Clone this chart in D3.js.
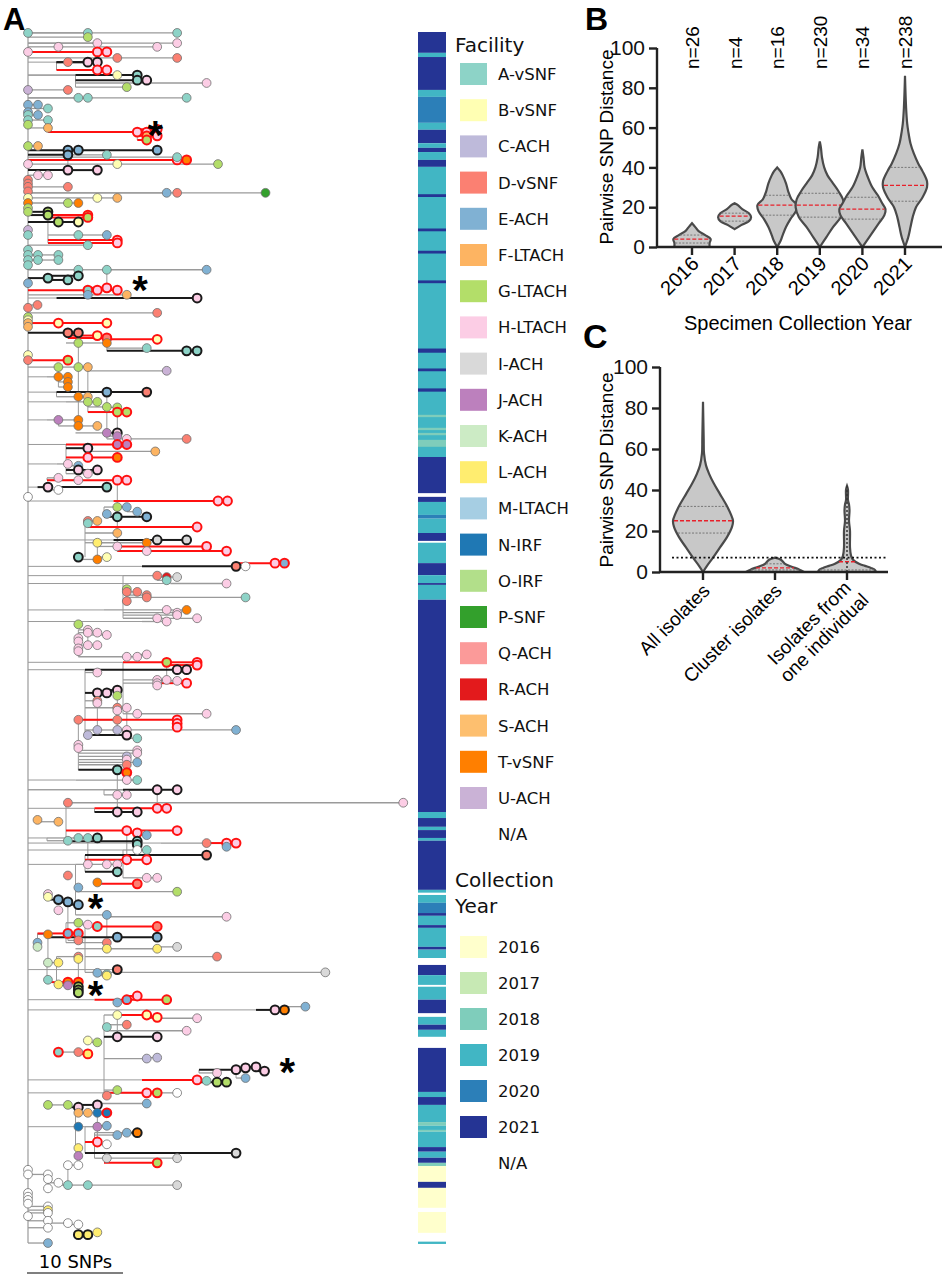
<!DOCTYPE html>
<html><head><meta charset="utf-8">
<script src="https://cdn.jsdelivr.net/npm/d3@7"></script>
<style>body{margin:0;background:#fff}svg{display:block}</style>
</head><body>
<script>
// ---------------- DATA ----------------
const facilityCodes = ["A","B","C","D","E","F","G","H","I","J","K","L","M","N","O","P","Q","R","S","T","U","W"];
const facilityLabels = ["A-vSNF","B-vSNF","C-ACH","D-vSNF","E-ACH","F-LTACH","G-LTACH","H-LTACH","I-ACH","J-ACH","K-ACH","L-ACH","M-LTACH","N-IRF","O-IRF","P-SNF","Q-ACH","R-ACH","S-ACH","T-vSNF","U-ACH","N/A"];
const facilityColors = ["#8dd3c7","#ffffb3","#bebada","#fb8072","#80b1d3","#fdb462","#b3de69","#fccde5","#d9d9d9","#bc80bd","#ccebc5","#ffed6f","#a6cee3","#1f78b4","#b2df8a","#33a02c","#fb9a99","#e31a1c","#fdbf6f","#ff7f00","#cab2d6","#ffffff"];
const yearLabels = ["2016","2017","2018","2019","2020","2021","N/A"];
const yearColors = ["#ffffcc","#c7e9b4","#7fcdbb","#41b6c4","#2c7fb8","#253494","#ffffff"];

// tree tips: [tip order, branch start (SNPs), node position (SNPs), facility, ring]
const tips = [
[0.2,0,0,'A',''],[0.2,0,6.3,'A',''],[0.2,0,15.7,'A',''],[1.1,0,6.3,'G',''],
[2.4,0,7.3,'H',''],[2.4,0,15.7,'H',''],[3.2,0,3.2,'H',''],[3.2,3.2,13.6,'H',''],
[4.3,0,0,'H',''],[4.3,0,7.3,'H','r'],[4.3,7.3,8.3,'H','r'],[5.6,0,9.4,'D',''],[5.6,9.4,15.7,'D',''],
[6.5,3,4.2,'D',''],[6.5,3,6.3,'H','k'],[6.5,3,7.3,'H','k'],[8.2,3,7.3,'H','r'],[8.2,7.3,8.3,'H','r'],
[9.3,0,9.4,'B',''],[9.3,5,11.5,'A','k'],[10.4,5,11.5,'A','k'],[10.4,11.5,12.5,'H','k'],[11,5,18.8,'H',''],
[11.9,5,10.4,'G',''],[12.5,0,0,'U',''],[12.5,0,4.2,'D',''],
[14.2,0,5.3,'A',''],[14.2,0,6.3,'A',''],[14.2,6.3,16.7,'A',''],
[15.7,0,0,'E',''],[15.7,0,1.05,'E',''],[16.5,0,2.1,'A',''],[17.3,0,0,'E',''],[17.9,0,0,'A',''],[17.9,0,1.05,'E',''],
[19,0,0,'A',''],[19,0,2.1,'A',''],[20,0,0,'G',''],
[20.7,0,2.1,'F',''],[21.6,2.1,11.5,'H','r'],[21.6,11.5,12.5,'H','r'],[21,11.5,13.6,'H','r'],[22.4,11.5,12.5,'F','r'],[22.4,12.5,13.6,'H','r'],[23.3,11.5,12.5,'G','r'],
[24.6,0,0,'G',''],[24.6,0,1.05,'F',''],
[25.5,0,4.2,'E','k'],[25.5,4.2,5.3,'E','k'],[25.5,5.3,13.6,'E','k'],[26.5,0,4.2,'E','k'],[26.5,4.2,8.3,'A',''],
[27.6,0,15.7,'H','r'],[27.6,15.7,16.7,'T','r'],[27,0,15.7,'A',''],
[28.5,0,0,'H',''],[28.5,0,9.4,'B',''],[28.5,9.4,20,'G',''],[29.8,0,4.2,'H','k'],[29.8,4.2,7.3,'H','k'],
[30.9,0,1.05,'H',''],[30.9,1,2.1,'H',''],
[31.9,0,0,'D',''],[32.7,0,0,'D',''],[33.4,0,0,'D',''],[33.4,0,4.2,'D',''],
[34.4,0,0,'D',''],[34.7,0,14.6,'E',''],[34.7,0,15.7,'D',''],[34.7,15.7,25,'P',''],
[35.8,0,0,'B',''],[35.8,0,7.3,'B',''],[35.8,7.3,9.4,'F',''],[36.9,0,0,'T',''],[36.9,0,4.2,'G',''],[36.9,4.2,5.3,'T',''],
[38,0,0,'G',''],[38.8,0,0,'G',''],[38.8,0,2.1,'G','k'],[39.5,0,2.1,'G','k'],[39.5,2.1,6.3,'G','r'],[40,2.1,6.3,'G','r'],
[41,0,3.2,'G','k'],[41,3.2,5.3,'B','k'],
[42.7,0,0,'U',''],[43.8,0,0,'A',''],[43.8,2.1,5.3,'A',''],[43.8,5.3,8.3,'E',''],[44.9,2.1,9.4,'H','r'],[45.5,2.1,9.4,'H','r'],
[46,0,6.3,'A',''],[47,0,0,'A',''],[48.1,0,0,'A',''],[48.1,0,1.05,'A',''],[48.1,1,3.2,'A',''],[49.2,0,0,'A',''],[49.2,0,1.05,'A',''],[49.2,1,3.2,'A',''],
[50.3,0,0,'A',''],[51.3,0,5.3,'A',''],[51.3,5.3,8.3,'A',''],[51.3,8.3,18.8,'E',''],
[53.1,0,2.1,'A','k'],[52.6,2.1,5.3,'A','k'],[53.5,2.1,4.2,'A','k'],[54.2,0,0,'E',''],
[55.7,0,6.3,'A','r'],[55.7,6.3,7.3,'H','r'],[55.2,6.3,8.3,'H','r'],[55.7,8.3,9.4,'H','r'],
[56.7,0,6.3,'E',''],[56.7,6.3,10.4,'F',''],[57.4,3,17.8,'H','k'],
[58.9,0,1,'D',''],[59.5,0,0,'D',''],[60.6,0,13.6,'D',''],
[61.5,0,0,'G',''],[62.2,0,0,'B',''],[62.8,0,0,'F',''],[62.8,0,3.2,'B','r'],[62.8,3.2,8.3,'B','r'],[63.6,0,0,'F',''],
[64.9,0,4.2,'D','k'],[64.9,4.2,5.3,'D','k'],[65.5,4.2,7.3,'B','r'],[66,4.2,8.3,'D','r'],[66.3,8.3,13.6,'B','r'],
[67.1,4,5.3,'G',''],[67.1,5.3,8.3,'T',''],[68.2,8.3,12.5,'A',''],[68.8,8.3,16.7,'A','k'],[68.8,16.7,17.8,'A','k'],
[69.7,0,0,'B',''],[70.8,0,0,'D',''],[70.8,0,4.2,'G','r'],
[72.3,0,3.2,'G',''],[72.3,3.2,5.3,'G',''],[72.3,5.3,6.3,'F',''],[73.1,6.3,14.6,'U',''],
[74.4,2,3.2,'T',''],[74.4,3.2,4.2,'T',''],[75.5,3.2,4.2,'T',''],[76.6,3.2,4.2,'T',''],
[77.7,3,8.3,'E','k'],[77.7,8.3,12.5,'D','k'],
[78.7,3,5.3,'T',''],[78.7,5.3,6.3,'F',''],[79.8,4,6.3,'G',''],[79.8,6.3,7.3,'G',''],[80.9,6.3,8.3,'G',''],[81,8.3,9.4,'G',''],[82,6.3,9.4,'G','r'],[82,9.4,10.4,'G','r'],
[83.7,2,3.2,'J',''],[83.7,3.2,5.3,'T',''],[85,3.2,5.3,'T',''],[85,5.3,7.3,'F',''],
[86.5,5,8.3,'J',''],[86.5,8.3,9.4,'H','k'],[87.2,8.3,9.4,'J',''],[87.8,8.3,10.4,'H',''],[87.8,10.4,16.7,'D',''],
[89,4,9.4,'J','r'],[89,9.4,10.4,'J','r'],[89.8,4,6.3,'H','k'],[90.5,6.3,13.4,'F',''],
[91.8,4,6.3,'H','r'],[91.8,6.3,9.4,'T','r'],
[93.2,3,4.2,'H',''],[93.6,4,5.3,'E',''],[94.5,4,5.3,'H','k'],[94.5,5.3,7.3,'H','k'],[95.3,4,6.3,'H',''],
[96.2,2,3.2,'H',''],[96.7,2,5.3,'H',''],[96.7,2,9.4,'H','r'],[96.7,9.4,10.4,'H','r'],
[98.2,1,2.1,'H','k'],[98.8,2.1,3.2,'W',''],[98.2,3.2,8.3,'A','k'],[100.3,0,0,'W',''],
[101.2,9,20,'H','r'],[101.2,20,21,'H','r'],
[102.5,8,9.4,'G',''],[102.5,9.4,10.4,'E',''],[103.5,10.4,11.5,'E',''],[104,8,8.3,'E',''],[104.6,8,9.4,'A','k'],[104.6,9.4,12.5,'E','k'],
[105.5,6,6.3,'D',''],[105.5,6.3,7.3,'F',''],[106,6,6.3,'A',''],[106.8,6.3,17.8,'H','r'],
[108.1,6,9.4,'F',''],[109.6,9,13.6,'I','k'],[109.6,13.6,16.7,'I','k'],[110.2,6,7.3,'L',''],[110.2,7.3,12.5,'T',''],
[111,7.3,9.4,'H',''],[111,9.4,18.8,'H','r'],[112,9.4,20.9,'H','r'],[112,9.4,12.5,'H',''],
[113.3,6,5.3,'A','k'],[113.8,5.3,7.3,'T',''],[113.3,7.3,8.3,'B',''],
[114.6,22,26,'H','r'],[114.6,26,27,'E','r'],[115.3,12,21.9,'D','k'],[115.3,21.9,22.9,'W',''],
[117.3,10,13.6,'D',''],[117.6,13.6,14.6,'R',''],[118.3,13.6,14.6,'A',''],[117.6,14.6,15.7,'I',''],[119,15,20.9,'H',''],
[120.2,10,10.4,'G',''],[120.8,10,10.4,'D',''],[120.8,10.4,11.5,'D',''],[121.5,10.4,12.5,'D',''],[122,10.4,12.5,'D',''],[122,12.5,22.9,'A',''],[122.8,10,10.4,'D',''],
[124.7,8,14.6,'H',''],[124.7,14.6,16.7,'T',''],[125.3,10,15.7,'H',''],[125.8,10,15.7,'H',''],[126.5,10,17.8,'H',''],[126.5,10,13.6,'H',''],[127.2,12,14.6,'H',''],
[127.8,6,5.3,'G',''],
[129,5.3,6.3,'H',''],[129.6,5.3,6.3,'H',''],[129.6,6.3,7.3,'H',''],[130.1,6.3,8.3,'H',''],[130.8,5.3,5.3,'H',''],
[131.5,5.3,5.3,'H',''],[132.3,5.3,6.3,'H',''],[132.3,6.3,7.3,'H',''],[133,5.3,5.3,'H',''],[133.6,5.3,5.3,'H',''],
[134.8,5.3,10.4,'H',''],[134.8,10.4,11.5,'H',''],[134.3,11.5,12.5,'H',''],
[136,10,14.6,'G','r'],[136,14.6,17.8,'H','r'],[136.6,14.6,17.8,'H','r'],
[137.6,6,15.7,'H','k'],[137.6,15.7,16.7,'H','k'],[138.2,6,7.3,'H',''],
[139.8,10,13.6,'H',''],[139.8,13.6,14.6,'H',''],[140,14.6,15.7,'H',''],
[140.5,10,13.6,'H',''],[140.5,13.6,16.7,'H','r'],[141,13.6,13.6,'H',''],
[142.6,6,7.3,'H','k'],[142.6,7.3,8.3,'H','k'],[142,8.3,9.4,'H','k'],[143.2,9.4,9.4,'G',''],
[144.3,6,7.3,'D',''],[144.8,7.3,7.3,'H',''],[145.8,6,10.4,'H',''],[145.8,10.4,9.4,'D',''],[146.4,9.4,9.4,'H',''],[147.1,10,11.5,'H',''],[147.1,11.5,18.8,'H',''],
[148.4,5.3,5.3,'D',''],[148.4,6,9.4,'D',''],[148.4,5.3,15.7,'H','r'],[149.2,15.7,15.7,'H','r'],[150,15.7,15.7,'H','r'],
[150.6,6,7.3,'C',''],[150.6,7.3,9.4,'C',''],[150.6,9.4,10.4,'H',''],[150.6,10.4,21.9,'E',''],
[151.7,6,6.3,'C',''],[151.7,6.3,10.4,'H','k'],[152.4,10.4,11.5,'A',''],
[153.8,5.3,5.3,'H',''],[154.5,5.3,5.3,'H',''],[155,5.3,11.5,'H',''],[155.6,5.3,11.5,'H',''],[156.3,5.3,10.4,'C',''],[157,5.3,10.4,'H',''],[157.6,5.3,11.5,'E',''],[158.1,5.3,10.4,'D',''],
[159.2,5.3,9.4,'A','k'],[159.8,9.4,10.4,'T','r'],
[161.4,5,10.4,'H',''],[161.4,10.4,11.5,'A',''],
[163.5,8,13.6,'W',''],[163.5,10,13.6,'H','k'],[163.5,13.6,15.7,'H','k'],[164.6,8,9.4,'H',''],[164.6,9.4,10.4,'H',''],
[166.3,4,39.5,'H',''],[166.3,4,4.2,'D',''],
[167.5,7,13.6,'H','r'],[167.5,13.6,14.6,'H','r'],[168.3,7,9.4,'H','k'],[168.3,9.4,11.5,'H','k'],
[170,1,1,'F',''],[170.4,1,3.2,'F',''],
[172.3,4,10.4,'H','r'],[172.8,10.4,11.5,'H','r'],[172.3,11.5,15.7,'H','r'],[173.3,11.5,12.5,'E',''],
[174.6,4,11.5,'A','k'],[175.3,11.5,11.5,'A','k'],[173.9,2,5.3,'A',''],[173.9,5.3,6.3,'A',''],[173.9,6.3,7.3,'A','k'],[174.5,2,4.2,'A',''],
[175,14,18.8,'D',''],[175,18.8,20.9,'H','r'],[175,20.9,21.9,'H','r'],[175.8,20.9,20.9,'E',''],
[176.5,10,11.5,'W',''],[176.5,11.5,12.5,'A',''],[177.6,6,18.8,'D','k'],
[178.6,6,10.4,'H','r'],[178.6,10.4,12.5,'H','r'],[179.6,5,6.3,'H',''],[179.6,6.3,8.3,'H',''],[179.6,8.3,9.4,'H',''],
[181.2,6,9.4,'A','k'],[182,4,4.2,'D',''],
[182.5,10,12.5,'H',''],[182.5,12.5,13.6,'H',''],[183.5,7,7.3,'T',''],[183.8,7.3,11.5,'D','r'],
[185.5,5,15.7,'G',''],[184.6,5,5.3,'E',''],
[186,2,2.1,'H',''],[186.6,2,2.1,'B',''],[187.2,2,3.2,'E','k'],[187.7,3.2,4.2,'E','k'],[188.3,4.2,5.3,'E','k'],
[189.5,3,3.2,'H',''],[190.5,5,8.3,'E',''],[190.9,8.3,20.9,'H',''],
[192.2,4,5.3,'G',''],[192.6,5.3,6.3,'H',''],[193,6,7.3,'A','r'],[193,7.3,13.6,'D','r'],
[194.7,1,2.1,'T',''],[195.3,2.1,9.4,'E','k'],[195.3,9.4,13.6,'E','k'],[194.5,1,4.2,'E','r'],[194.5,4.2,5.3,'E','r'],[196,4.2,5.3,'D',''],
[196.5,1,1,'E',''],[197.4,1,1,'K',''],[196.5,4,8.3,'D',''],
[197.8,5,8.3,'L',''],[197.8,8.3,13.6,'L',''],[197.4,13.6,15.7,'I',''],
[199.5,3,5.3,'D',''],[199.5,6,19.9,'D',''],[200,5.3,5.3,'L',''],
[200.8,2,2.1,'K',''],[200.8,2.1,3.2,'L',''],
[202.3,9,9.4,'D','k'],[202.9,6,31.3,'I',''],[203,7.3,7.3,'E',''],[203.3,7.3,8.3,'A',''],[203.6,7.3,8.3,'L',''],
[204.5,2,2.1,'A',''],[205,2,4.2,'T','r'],[205,4.2,5.3,'T','r'],[205.5,3,3.2,'L',''],[205.7,3.2,4.2,'J',''],
[206,5.3,5.3,'G','k'],[206.7,5.3,5.3,'G','k'],[207.3,5.3,5.3,'G','k'],
[208.8,7,10.4,'E','r'],[209.4,10.4,9.4,'E',''],[208.8,10.4,14.6,'G','r'],[208,10.4,11.5,'H','r'],
[211,24,26,'H','k'],[211,26,27,'T','k'],[210.3,27,29.2,'E',''],
[212.1,8,9.4,'B',''],[212.1,9.4,12.5,'B','r'],[212.6,12.5,13.6,'B','r'],[212.8,12.5,17.8,'H',''],
[214.7,8,8.3,'A',''],[215.5,8.3,16.7,'H',''],[214.2,8.3,10.4,'D',''],
[216.8,8,9.4,'H','k'],[216.8,9.4,13.6,'H','k'],[217.6,6,6.3,'B',''],[218,6.3,7.3,'G',''],
[220.1,3,3.2,'A','r'],[220.1,3.2,5.3,'D',''],[220.5,5.3,6.3,'L','r'],[221.5,8,12.5,'C',''],[221.3,12.5,13.6,'C',''],
[223.9,18,21.9,'H','k'],[223.5,21.9,22.9,'H','k'],[223.3,22.9,24,'H','k'],[224.2,24,24.9,'H','k'],[225.7,21.9,22.9,'E',''],[224.6,18,19.9,'H',''],
[226.1,12,17.8,'H','r'],[226.3,17.8,18.8,'A',''],[226.6,17.8,19.9,'G','k'],[226.6,19.9,20.9,'G','k'],
[228.9,14,15.7,'W',''],[228.3,8,9.4,'G',''],[229.5,8,8.3,'D',''],[228.9,8,12.5,'H','r'],[228.9,12.5,13.6,'G','r'],
[231.5,2,2.1,'G',''],[231.5,2.1,4.2,'G',''],[232,4.2,5.3,'H','k'],[231.5,5.3,7.3,'H','k'],[231.2,7.3,12.5,'E',''],
[233.2,5,5.3,'F',''],[233.2,5.3,6.3,'F',''],[233.2,6.3,7.3,'N',''],[233.2,7.3,8.3,'N','r'],
[236.2,5,5.3,'N',''],[236.2,6,7.3,'J',''],[236,7.3,8.3,'E',''],
[237.5,7,10.4,'E',''],[237.5,10.4,11.5,'T','k'],[238,7,9.4,'E',''],
[239.5,6,7.3,'H','r'],[240,7.3,8.3,'W',''],
[241.9,6,21.9,'I','k'],[240.8,5,5.3,'L',''],[242.5,5.3,5.3,'J',''],[243,7,8.3,'I',''],[243,8.3,15.7,'I',''],
[244,8,13.6,'G','r'],[244.5,4,4.2,'W',''],[244.5,4.2,5.3,'W',''],
[245.5,0,0,'W',''],[246.5,0,0,'W',''],[246.5,0,2.1,'W',''],[247.5,2.1,2.1,'W',''],[248.3,2.1,3.2,'W',''],
[248.8,3,4.2,'A',''],[248.8,4.2,6.3,'A',''],[248.8,6.3,15.7,'I',''],[249.5,2.1,2.1,'W',''],
[250.5,0,0,'W',''],[251.3,0,0,'W',''],[252,0,0,'W',''],[252.8,0,0,'W',''],[253.4,0,2.1,'W',''],[254.2,0,2.1,'L',''],[254.8,0,2.1,'W',''],[255.5,0,0,'W',''],
[256.5,0,2.1,'W',''],[257,2.1,4.2,'W',''],[257.3,4.2,5.3,'W',''],[258,0,2.1,'W',''],
[259.5,5,5.3,'L','k'],[259.5,5.3,6.3,'L','k'],[259,6.3,7.3,'L',''],[261.3,0,2.1,'E','']
];
const asterisks = [[22.2,13.4],[55.7,11.8],[189,7.1],[207.8,7.1],[224.4,27.3]];

// collection-year strip: [year, first tip order, last tip order]
const yearBands = [
["2021",0,4.5],["2019",4.5,5.4],["2021",5.4,12.5],["2019",12.5,14],["2020",14,19.6],["2019",19.6,21.1],["2021",21.1,24],["2019",24,25],["2021",25,25.9],["2019",25.9,27.6],["2021",27.6,29.1],
["2019",29.1,91.7],["2021",35,35.6],["2021",42.4,43],["2021",47.2,47.8],["2021",53.6,54.2],["2021",68.3,69.2],["2021",72.6,73.2],["2021",76.9,77.6],
["2018",82.6,83.1],["2018",85.4,85.9],["2018",86.5,87],["2018",88,89.5],
["2021",91.7,99.5],["2021",100.3,101.4],["2019",101.4,104.2],["2020",104.2,105],["2019",105,108.1],["2021",108.1,109.8],["2019",110.2,114.6],["2021",114.6,117.2],["2019",117.2,118.9],["2021",118.9,119.3],["2019",119.3,122.5],
["2021",122.5,168.3],["2019",168.3,169.6],["2021",169.6,171.5],["2019",171.5,172.2],["2021",172.2,173.9],["2019",173.9,174.5],["2021",174.5,185.1],["2019",185.1,185.7],
["2019",186.2,187.9],["2020",187.9,190.1],["2021",190.1,190.7],["2019",190.7,192.7],["2021",192.7,193.3],["2019",193.3,197.4],["2021",197.4,198],["2019",198,199.8],
["2021",201.3,203.5],["2019",203.5,205.6],["2019",206,208.8],["2021",208.8,211.7],["2019",212.5,214.2],["2021",214.2,215.3],["2019",215.3,216.8],
["2021",219.2,228.7],["2019",228.7,229.8],["2021",229.8,231.5],["2019",231.5,235.2],["2018",235.2,236],["2019",236,236.9],["2018",236.9,237.3],["2019",237.3,240.6],["2021",240.6,241.6],["2019",241.6,242.9],["2021",242.9,244],["2018",244,244.7],
["2016",244.7,248.1],["2021",248.1,249.4],["2016",249.4,253.7],["2016",254.6,259.1],["2019",261,261.5]
];

// Panel B
const yearsB = ["2016","2017","2018","2019","2020","2021"];
const nB = ["n=26","n=4","n=16","n=230","n=34","n=238"];
const violinsB = [
 [[0,16],[2,16],[4,17],[6,12],[8,6],[10,3],[12,0]],
 [[9,0],[11,6],[13,13],[15,15],[17,13],[19,7],[21,3],[22,0]],
 [[0,0],[3,3],[6,5],[10,8],[14,12],[18,17],[21,18],[24,13],[28,10],[32,8],[36,5],[38,3],[40,0]],
 [[0,0],[5,6],[10,12],[15,19],[20,22],[24,21],[28,17],[32,12],[36,7],[40,4],[45,2],[50,1],[53,0]],
 [[0,0],[4,5],[8,10],[12,15],[16,20],[19,21],[22,18],[26,14],[30,9],[35,5],[40,2],[45,1],[49,0]],
 [[0,0],[5,3],[10,5],[15,7],[20,10],[25,16],[30,20],[33,20],[38,16],[42,12],[47,8],[52,5],[58,3],[62,2],[70,1],[86,0]]
];
const mediansB = [4,15.5,21,21,19,31];
const quartilesB = [[2,6],[13,17],[16,26],[15,27],[14,25],[23,40]];

// Panel C
const groupsC = [["All isolates"],["Cluster isolates"],["Isolates from","one individual"]];
const violinsC = [
 [[0,0],[3,4],[7,10],[12,17],[17,24],[22,29],[25,30],[28,28],[33,23],[38,17],[43,11],[48,6],[52,3],[58,1],[65,0.7],[83,0]],
 [[0,29],[1,25],[2,20],[3,14],[4,10],[5,8],[6,6],[7,0]],
 [[0,29],[1,28],[2,24],[3,18],[4,12],[6,6],[8,4],[12,3],[20,3],[25,2],[30,2.5],[33,2],[35,1],[40,1],[42,0]]
];
const mediansC = [25,2,5];
const quartilesC = [[19,32],[1,4],[1,18]];
const thresholdC = 7;
const yTicks = [0,20,40,60,80,100];

// ---------------- DRAW ----------------
const W = 946, H = 1280;
const svg = d3.select("body").append("svg").attr("width", W).attr("height", H);
const facColor = d3.scaleOrdinal(facilityCodes, facilityColors);
const yrColor = d3.scaleOrdinal(yearLabels, yearColors);

const xT = d3.scaleLinear().domain([0,10]).range([28,123]);
const yT = d3.scaleLinear().domain([0,260]).range([32,1237]);
const lineCol = r => r === 'k' ? '#1a1a1a' : r === 'r' ? '#ff1010' : '#9a9a9a';
const tree = svg.append("g");

tree.append("line").attr("x1", xT(0)).attr("x2", xT(0)).attr("y1", yT(0.2)).attr("y2", yT(261.3)).attr("stroke", "#9a9a9a").attr("stroke-width", 1.2);

const byFrom = d3.groups(tips.filter(t => t[1] > 0.5), t => t[1]);
byFrom.forEach(([v, arr]) => {
  const ranks = arr.map(t => t[0]).sort((a,b) => a-b);
  let groups = [[ranks[0]]];
  for (let i = 1; i < ranks.length; i++) {
    if (ranks[i] - ranks[i-1] > 7) groups.push([ranks[i]]); else groups[groups.length-1].push(ranks[i]);
  }
  groups.forEach(g => {
    const r0 = d3.min(g), r1 = d3.max(g);
    if (r1 > r0) tree.append("line").attr("x1", xT(v)).attr("x2", xT(v)).attr("y1", yT(r0)).attr("y2", yT(r1)).attr("stroke", "#9a9a9a").attr("stroke-width", 1);
    const hasParent = tips.some(t => Math.abs(t[2] - v) < 0.35 && Math.abs(t[0] - r0) < 3);
    if (!hasParent) tree.append("line").attr("x1", xT(0)).attr("x2", xT(v)).attr("y1", yT(r0)).attr("y2", yT(r0)).attr("stroke", "#9a9a9a").attr("stroke-width", 1);
  });
});

["", "k", "r"].forEach(ring => {
  tree.selectAll(null).data(tips.filter(t => t[4] === ring && t[2] > t[1])).join("line")
    .attr("x1", d => xT(d[1])).attr("x2", d => xT(d[2]))
    .attr("y1", d => yT(d[0])).attr("y2", d => yT(d[0]))
    .attr("stroke", lineCol(ring)).attr("stroke-width", ring ? 2 : 1.3);
});
tree.selectAll("circle").data(tips).join("circle")
  .attr("cx", d => xT(d[2])).attr("cy", d => yT(d[0])).attr("r", 4.4)
  .attr("fill", d => facColor(d[3]))
  .attr("stroke", d => d[4] === 'k' ? '#1a1a1a' : d[4] === 'r' ? '#ff1010' : '#707070')
  .attr("stroke-width", d => d[4] ? 2 : 0.8);

svg.selectAll(".ast").data(asterisks).join("text")
  .attr("x", d => xT(d[1])).attr("y", d => yT(d[0]) + 14)
  .attr("text-anchor", "middle").attr("font-family", "Liberation Sans, Arial")
  .attr("font-weight", "bold").attr("font-size", 40).text("*");

svg.append("line").attr("x1", xT(0) - 1).attr("x2", xT(10)).attr("y1", 1273).attr("y2", 1273).attr("stroke", "#000").attr("stroke-width", 1.2);
svg.append("text").attr("x", (xT(0) + xT(10)) / 2).attr("y", 1268).attr("text-anchor", "middle")
  .attr("font-family", "DejaVu Sans").attr("font-size", 18).text("10 SNPs");
svg.append("text").attr("x", 3).attr("y", 30).attr("font-family", "Liberation Sans, Arial").attr("font-weight", "bold").attr("font-size", 31).text("A");

svg.selectAll(".band").data(yearBands).join("rect")
  .attr("x", 418).attr("width", 28)
  .attr("y", d => yT(d[1])).attr("height", d => Math.max(1, yT(d[2]) - yT(d[1])))
  .attr("fill", d => yrColor(d[0]));

const leg = svg.append("g").attr("font-family", "DejaVu Sans").attr("fill", "#111");
leg.append("text").attr("x", 455).attr("y", 52).attr("font-size", 20).text("Facility");
facilityCodes.forEach((c, i) => {
  const y = 74 + i * 36.2;
  if (c !== "W") leg.append("rect").attr("x", 460).attr("y", y - 11).attr("width", 27).attr("height", 22).attr("fill", facColor(c));
  leg.append("text").attr("x", 498).attr("y", y + 6).attr("font-size", 16.5).text(facilityLabels[i]);
});
leg.append("text").attr("x", 455).attr("y", 887).attr("font-size", 20).text("Collection");
leg.append("text").attr("x", 455).attr("y", 913).attr("font-size", 20).text("Year");
yearLabels.forEach((yl, i) => {
  const y = 947 + i * 36;
  if (yl !== "N/A") leg.append("rect").attr("x", 460).attr("y", y - 11).attr("width", 27).attr("height", 22).attr("fill", yrColor(yl));
  leg.append("text").attr("x", 498).attr("y", y + 6).attr("font-size", 16.5).text(yl);
});

function widthAt(prof, v) {
  for (let i = 1; i < prof.length; i++) {
    if (v <= prof[i][0]) {
      const [a, wa] = prof[i-1], [b, wb] = prof[i];
      return wa + (wb - wa) * (v - a) / (b - a);
    }
  }
  return 0;
}
function violinPanel(g, cats, xs, ys, profiles, medians, quarts, wScale) {
  const area = d3.area().curve(d3.curveCatmullRom.alpha(0.5))
    .y(d => ys(d[0])).x0(d => -wScale(d[1])).x1(d => wScale(d[1]));
  cats.forEach((c, i) => {
    const cx = xs(i);
    const vg = g.append("g").attr("transform", `translate(${cx},0)`);
    vg.append("path").attr("d", area(profiles[i])).attr("fill", "#c8c8c8").attr("stroke", "#4a4a4a").attr("stroke-width", 2.2);
    quarts[i].forEach(q => {
      const w = wScale(widthAt(profiles[i], q));
      vg.append("line").attr("x1", -w + 1).attr("x2", w - 1).attr("y1", ys(q)).attr("y2", ys(q)).attr("stroke", "#777").attr("stroke-width", 1).attr("stroke-dasharray", "2,1.5");
    });
    const wm = wScale(widthAt(profiles[i], medians[i]));
    vg.append("line").attr("x1", -wm + 1).attr("x2", wm - 1).attr("y1", ys(medians[i])).attr("y2", ys(medians[i])).attr("stroke", "#e8202a").attr("stroke-width", 1.3).attr("stroke-dasharray", "4,2");
  });
}
function yAxis(g, ys, x) {
  const ax = g.append("g").attr("transform", `translate(${x},0)`)
    .call(d3.axisLeft(ys).tickValues(yTicks).tickSize(8).tickPadding(4));
  ax.selectAll("path,line").attr("stroke", "#222").attr("stroke-width", 2.4);
  ax.selectAll("text").attr("font-family", "Liberation Sans, Arial").attr("font-size", 21).attr("fill", "#111");
  ax.select(".domain").attr("d", `M0,${ys(100)}V${ys(0)}`).attr("stroke-width", 2.4);
}

// ---------- Panel B ----------
const gB = svg.append("g");
const yB = d3.scaleLinear().domain([0,100]).range([247,48]);
const xB = d3.scaleLinear().domain([0,5]).range([692,905]);
const wSB = d3.scaleLinear().domain([0,30]).range([0,33]);
violinPanel(gB, yearsB, xB, yB, violinsB, mediansB, quartilesB, wSB);
gB.append("line").attr("x1", 657).attr("x2", 942).attr("y1", yB(0)).attr("y2", yB(0)).attr("stroke", "#222").attr("stroke-width", 2.4);
yAxis(gB, yB, 657);
yearsB.forEach((y, i) => {
  gB.append("line").attr("x1", xB(i)).attr("x2", xB(i)).attr("y1", yB(0)).attr("y2", yB(0) + 8).attr("stroke", "#222").attr("stroke-width", 2.4);
  gB.append("text").attr("transform", `translate(${xB(i) + 8},${yB(0) + 18}) rotate(-45)`).attr("text-anchor", "end")
    .attr("font-family", "Liberation Sans, Arial").attr("font-size", 20).text(y);
  gB.append("text").attr("transform", `translate(${xB(i) + 7},69) rotate(-90)`).attr("text-anchor", "start")
    .attr("font-family", "Liberation Sans, Arial").attr("font-size", 19).text(nB[i]);
});
gB.append("text").attr("transform", "translate(613,147) rotate(-90)").attr("text-anchor", "middle")
  .attr("font-family", "Liberation Sans, Arial").attr("font-size", 19).text("Pairwise SNP Distance");
gB.append("text").attr("x", 798).attr("y", 330).attr("text-anchor", "middle")
  .attr("font-family", "Liberation Sans, Arial").attr("font-size", 20).text("Specimen Collection Year");
svg.append("text").attr("x", 585).attr("y", 30).attr("font-family", "Liberation Sans, Arial").attr("font-weight", "bold").attr("font-size", 32).text("B");

// ---------- Panel C ----------
const gC = svg.append("g");
const yC = d3.scaleLinear().domain([0,100]).range([572,367]);
const xC = d3.scaleLinear().domain([0,2]).range([703,847]);
const wSC = d3.scaleLinear().domain([0,30]).range([0,30]);
violinPanel(gC, groupsC, xC, yC, violinsC, mediansC, quartilesC, wSC);
gC.append("line").attr("x1", xC(2)).attr("x2", xC(2)).attr("y1", yC(0)).attr("y2", yC(42)).attr("stroke", "#333").attr("stroke-width", 1.5).attr("stroke-dasharray", "2,2");
gC.append("line").attr("x1", 672).attr("x2", 888).attr("y1", yC(thresholdC)).attr("y2", yC(thresholdC)).attr("stroke", "#111").attr("stroke-width", 1.6).attr("stroke-dasharray", "2,2.5");
gC.append("line").attr("x1", 660).attr("x2", 888).attr("y1", yC(0)).attr("y2", yC(0)).attr("stroke", "#222").attr("stroke-width", 2.4);
yAxis(gC, yC, 660);
groupsC.forEach((lines, i) => {
  gC.append("line").attr("x1", xC(i)).attr("x2", xC(i)).attr("y1", yC(0)).attr("y2", yC(0) + 8).attr("stroke", "#222").attr("stroke-width", 2.4);
  const t = gC.append("text").attr("transform", `translate(${xC(i) + 8},${yC(0) + 20}) rotate(-45)`).attr("text-anchor", "end")
    .attr("font-family", "Liberation Sans, Arial").attr("font-size", 19);
  lines.forEach((l, j) => t.append("tspan").attr("x", j === 0 ? 0 : 4).attr("dy", j === 0 ? (lines.length > 1 ? -4 : 0) : 21).text(l));
});
gC.append("text").attr("transform", "translate(613,470) rotate(-90)").attr("text-anchor", "middle")
  .attr("font-family", "Liberation Sans, Arial").attr("font-size", 19).text("Pairwise SNP Distance");
svg.append("text").attr("x", 583).attr("y", 348).attr("font-family", "Liberation Sans, Arial").attr("font-weight", "bold").attr("font-size", 34).text("C");
</script>
</body></html>
